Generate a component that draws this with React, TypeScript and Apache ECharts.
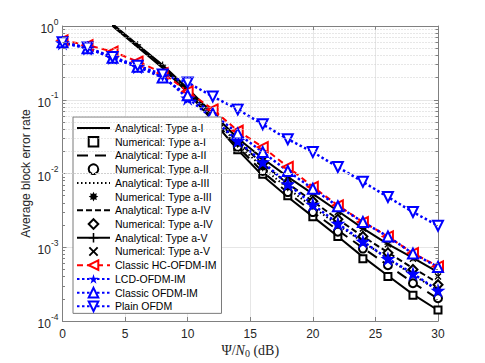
import React, { useEffect, useRef } from "react";
import * as echarts from "echarts";

// ---------- data ----------
const snrAll = [0, 2, 4, 6, 8, 10, 12, 14, 16, 18, 20, 22, 24, 26, 28, 30];
const snrAnalytical = [4, 6, 8, 10, 12, 14, 16, 18, 20, 22, 24, 26, 28, 30];
const snrNumerical = [12, 14, 16, 18, 20, 22, 24, 26, 28, 30];

const analyticalA1 = [1.0, 0.52, 0.27, 0.125, 0.052, 0.021, 0.0093, 0.0048, 0.0026, 0.0014, 0.00074, 0.00041, 0.00023, 0.00014];
const analyticalA2 = [1.02, 0.53, 0.28, 0.13, 0.055, 0.023, 0.0105, 0.0055, 0.003, 0.0017, 0.00098, 0.00057, 0.00033, 0.0002];
const analyticalA3 = [1.03, 0.54, 0.285, 0.133, 0.058, 0.025, 0.012, 0.0063, 0.0035, 0.002, 0.00118, 0.0007, 0.00042, 0.00026];
const analyticalA4 = [1.04, 0.545, 0.29, 0.137, 0.061, 0.027, 0.0135, 0.0073, 0.0042, 0.0024, 0.0014, 0.00085, 0.00052, 0.00033];
const analyticalA5 = [1.06, 0.555, 0.295, 0.142, 0.065, 0.03, 0.016, 0.009, 0.0053, 0.0031, 0.0018, 0.0011, 0.00072, 0.00046];

const numericalA1 = [0.05, 0.021, 0.0098, 0.005, 0.0026, 0.0014, 0.0007, 0.0004, 0.000224, 0.000141];
const numericalA2 = [0.054, 0.023, 0.0108, 0.0056, 0.003, 0.00163, 0.00096, 0.00057, 0.000325, 0.000204];
const numericalA3 = [0.057, 0.025, 0.012, 0.0064, 0.0036, 0.002, 0.0012, 0.0007, 0.00043, 0.00026];
const numericalA4 = [0.06, 0.027, 0.0138, 0.0074, 0.0042, 0.0024, 0.0014, 0.00084, 0.0005, 0.00031];
const numericalA5 = [0.064, 0.03, 0.016, 0.009, 0.0053, 0.003, 0.0018, 0.0011, 0.0007, 0.0004];

const classicHC = [0.64, 0.55, 0.45, 0.33, 0.23, 0.13, 0.074, 0.038, 0.0228, 0.0123, 0.0066, 0.0037, 0.0022, 0.0014, 0.00083, 0.00055];
const lcdOFDMIM = [0.59, 0.5, 0.37, 0.28, 0.21, 0.105, 0.056, 0.0277, 0.0143, 0.0072, 0.0038, 0.0021, 0.0012, 0.0007, 0.00044, 0.00026];
const classicOFDMIM = [0.6, 0.5, 0.37, 0.28, 0.2, 0.115, 0.065, 0.035, 0.0195, 0.0108, 0.0062, 0.0036, 0.0022, 0.0014, 0.00082, 0.00054];
const plainOFDM = [0.6, 0.51, 0.38, 0.29, 0.22, 0.171, 0.111, 0.074, 0.0464, 0.0292, 0.0195, 0.01225, 0.0077, 0.0048, 0.003, 0.00196];

const xTicks = { min: 0, max: 30, interval: 5 };
const yRange = { min: 1e-4, max: 1 };

const seriesNames = [
  "Analytical: Type a-I",
  "Numerical: Type a-I",
  "Analytical: Type a-II",
  "Numerical: Type a-II",
  "Analytical: Type a-III",
  "Numerical: Type a-III",
  "Analytical: Type a-IV",
  "Numerical: Type a-IV",
  "Analytical: Type a-V",
  "Numerical: Type a-V",
  "Classic HC-OFDM-IM",
  "LCD-OFDM-IM",
  "Classic OFDM-IM",
  "Plain OFDM",
];

// ---------- symbols ----------
const starPath =
  "path://M50 0 L61.23 34.55 L97.55 34.55 L68.16 55.9 L79.39 90.45 L50 69.1 L20.61 90.45 L31.84 55.9 L2.45 34.55 L38.77 34.55 Z";
const plusPath = "path://M42 0 H58 V42 H100 V58 H58 V100 H42 V58 H0 V42 H42 Z";
const xPath =
  "path://M0 14 L14 0 L50 36 L86 0 L100 14 L64 50 L100 86 L86 100 L50 64 L14 100 L0 86 L36 50 Z";
const blobPath =
  "path://M50 0 L61.48 22.28 L85.36 14.64 L77.72 38.52 L100 50 L77.72 61.48 L85.36 85.36 L61.48 77.72 L50 100 L38.52 77.72 L14.64 85.36 L22.28 61.48 L0 50 L22.28 38.52 L14.64 14.64 L38.52 22.28 Z";

const pair = (xs: number[], ys: number[]) => xs.map((x, i) => [x, ys[i]]);

const FONT = "'Liberation Sans', Arial, Helvetica, sans-serif";
const TEXT = "#262626";
const AXIS = "#808080";

function analytical(name: string, ys: number[], type: any, extra: any = {}) {
  return {
    name,
    type: "line",
    data: pair(snrAnalytical, ys),
    symbol: "circle",
    showSymbol: false,
    itemStyle: { color: "rgba(0,0,0,0)" },
    lineStyle: { color: "#000", width: 2, type },
    silent: true,
    ...extra,
  };
}

function numerical(name: string, ys: number[], symbol: string, size: number) {
  return {
    name,
    type: "line",
    data: pair(snrNumerical, ys),
    symbol,
    symbolSize: size,
    showSymbol: true,
    showAllSymbol: true,
    itemStyle: { color: "#000", borderWidth: 1.5 },
    lineStyle: { color: "#000", width: 0 },
    silent: true,
  };
}

function scheme(name: string, ys: number[], color: string, lineType: any, width: number, symbol: string, size: number, rotate = 0) {
  return {
    name,
    type: "line",
    data: pair(snrAll, ys),
    symbol,
    symbolSize: size,
    symbolRotate: rotate,
    showSymbol: true,
    showAllSymbol: true,
    itemStyle: { color },
    lineStyle: { color, width, type: lineType },
    silent: true,
  };
}

export default function App() {
  const ref = useRef<HTMLDivElement>(null);

  useEffect(() => {
    if (!ref.current) return;
    const chart = echarts.init(ref.current, null, { renderer: "svg" });

    const minorVals: number[] = [];
    for (let e = -4; e < 0; e++) for (let k = 2; k <= 9; k++) minorVals.push(k * Math.pow(10, e));

    const option: any = {
      animation: false,
      backgroundColor: "#fff",
      grid: { left: 62.5, right: 47, top: 26, bottom: 40 },
      legend: {
        data: seriesNames,
        orient: "vertical",
        align: "left",
        left: 73,
        top: 117,
        itemWidth: 33,
        itemHeight: 12,
        itemGap: 1.72,
        padding: [5, 5, 1, 3],
        backgroundColor: "#fff",
        borderColor: "#7a7a7a",
        borderWidth: 1,
        selectedMode: false,
        textStyle: { fontSize: 10.5, color: "#000", fontFamily: FONT, lineHeight: 12 },
      },
      xAxis: [
        {
          type: "value",
          ...xTicks,
          position: "bottom",
          axisLine: { show: true, onZero: false, lineStyle: { color: AXIS, width: 1 } },
          axisTick: { show: true, inside: true, length: 4, lineStyle: { color: AXIS } },
          axisLabel: { color: TEXT, fontSize: 12, fontFamily: FONT, margin: 7 },
          splitLine: { show: true, lineStyle: { color: "#e6e6e6", width: 1 } },
          name: "{a|Ψ/}{i|N}{sub|0}{a| (dB)}",
          nameLocation: "middle",
          nameGap: 21,
          nameMoveOverlap: false,
          nameTextStyle: {
            rich: {
              a: { fontFamily: "'Liberation Serif', 'DejaVu Serif', serif", fontSize: 14, color: TEXT },
              i: { fontFamily: "'Liberation Serif', 'DejaVu Serif', serif", fontSize: 14, fontStyle: "italic", color: TEXT },
              sub: { fontFamily: "'Liberation Serif', 'DejaVu Serif', serif", fontSize: 10, color: TEXT, verticalAlign: "bottom", padding: [6, 0, 0, 0] },
            },
          },
        },
        {
          type: "value",
          ...xTicks,
          position: "top",
          axisLine: { show: true, onZero: false, lineStyle: { color: AXIS, width: 1 } },
          axisTick: { show: true, inside: true, length: 4, lineStyle: { color: AXIS } },
          axisLabel: { show: false },
          splitLine: { show: false },
        },
      ],
      yAxis: [
        {
          type: "log",
          logBase: 10,
          ...yRange,
          position: "left",
          axisLine: { show: true, onZero: false, lineStyle: { color: AXIS, width: 1 } },
          axisTick: { show: true, inside: true, length: 4, lineStyle: { color: AXIS } },
          axisLabel: {
            margin: 4,
            formatter: (v: number) => `{b|10}{s|${Math.round(Math.log10(v))}}`,
            rich: {
              b: { fontSize: 12, fontFamily: FONT, color: TEXT, lineHeight: 18, verticalAlign: "bottom" },
              s: { fontSize: 8.5, fontFamily: FONT, color: TEXT, lineHeight: 18, verticalAlign: "top" },
            },
          },
          splitLine: { show: true, lineStyle: { color: "#e6e6e6", width: 1 } },
          name: "Average block error rate",
          nameLocation: "middle",
          nameGap: 31,
          nameMoveOverlap: false,
          nameTextStyle: { fontSize: 12, fontFamily: FONT, color: TEXT },
        },
        {
          type: "log",
          logBase: 10,
          ...yRange,
          position: "right",
          axisLine: { show: true, onZero: false, lineStyle: { color: AXIS, width: 1 } },
          axisTick: { show: true, inside: true, length: 4, lineStyle: { color: AXIS } },
          axisLabel: { show: false },
          splitLine: { show: false },
        },
      ],
      series: [
        {
          name: "minorGrid",
          type: "line",
          data: [[0, 1]],
          symbol: "none",
          lineStyle: { width: 0 },
          silent: true,
          z: 1,
          markLine: {
            silent: true,
            symbol: ["none", "none"],
            label: { show: false },
            lineStyle: { color: "#cfcfcf", width: 1, type: [1, 2] },
            data: minorVals.map((v) => ({ yAxis: v })),
          },
        },
        {
          name: "minorTicks",
          type: "line",
          data: [[0, 1]],
          symbol: "none",
          lineStyle: { width: 0 },
          silent: true,
          z: 1,
          markLine: {
            silent: true,
            symbol: ["none", "none"],
            label: { show: false },
            lineStyle: { color: AXIS, width: 1, type: "solid" },
            data: [
              ...minorVals.map((v) => [{ coord: [xTicks.min, v] }, { coord: [xTicks.min + 0.2, v] }]),
              ...minorVals.map((v) => [{ coord: [xTicks.max - 0.2, v] }, { coord: [xTicks.max, v] }]),
            ],
          },
        },
        analytical(seriesNames[0], analyticalA1, "solid"),
        numerical(seriesNames[1], numericalA1, "emptyRect", 7),
        analytical(seriesNames[2], analyticalA2, [11, 7]),
        numerical(seriesNames[3], numericalA2, "emptyCircle", 8),
        analytical(seriesNames[4], analyticalA3, [1.5, 2.5]),
        numerical(seriesNames[5], numericalA3, blobPath, 8),
        analytical(seriesNames[6], analyticalA4, [6, 3]),
        numerical(seriesNames[7], numericalA4, "emptyDiamond", 9),
        analytical(seriesNames[8], analyticalA5, "solid", {
          symbol: plusPath,
          symbolSize: 7,
          showSymbol: true,
          itemStyle: { color: "#000" },
        }),
        numerical(seriesNames[9], numericalA5, xPath, 7),
        scheme(seriesNames[10], classicHC, "#ff0000", [6, 4], 2, "emptyTriangle", 10, 90),
        scheme(seriesNames[11], lcdOFDMIM, "#0000ff", [2.5, 2.5], 2.5, starPath, 15),
        scheme(seriesNames[12], classicOFDMIM, "#0000ff", [2.5, 2.5], 2.5, "emptyTriangle", 10),
        scheme(seriesNames[13], plainOFDM, "#0000ff", [2.5, 2.5], 2.5, "emptyTriangle", 10, 180),
      ],
    };

    chart.setOption(option);
    return () => chart.dispose();
  }, []);

  return (
    <div
      ref={ref}
      style={{ position: "fixed", left: 0, top: 0, width: 485, height: 363, background: "#fff" }}
    />
  );
}
